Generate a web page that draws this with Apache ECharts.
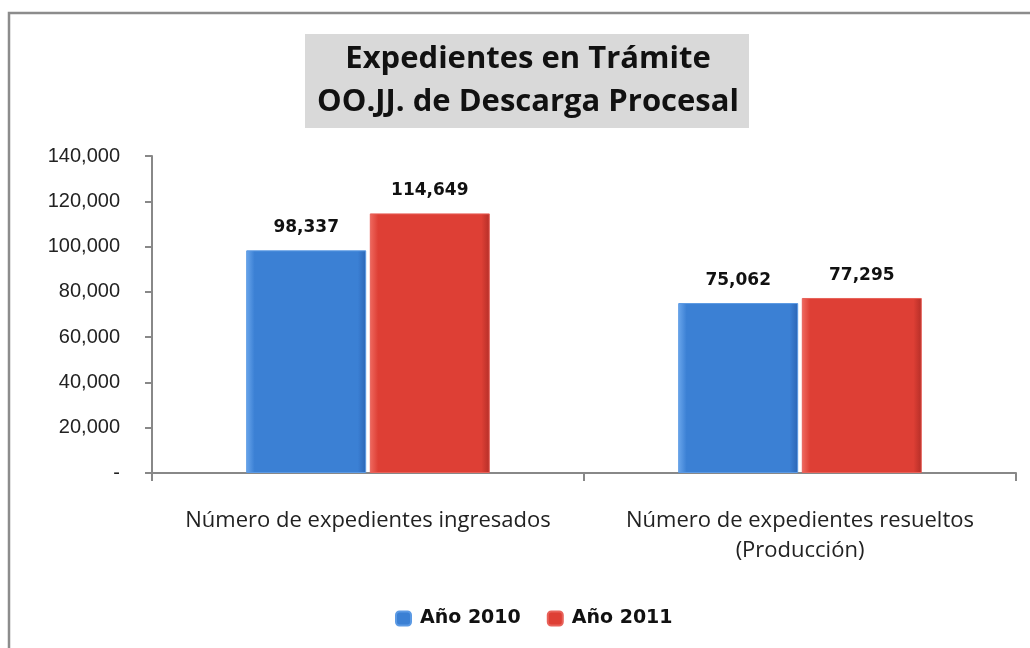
<!DOCTYPE html>
<html><head><meta charset="utf-8">
<script src="https://cdn.jsdelivr.net/npm/echarts@6/dist/echarts.min.js"></script>
<style>html,body{margin:0;padding:0;background:#fff}#c{width:1030px;height:648px}</style>
</head><body><div id="c"></div>
<script>
const categories = ['Número de expedientes ingresados', 'Número de expedientes resueltos\n(Producción)'];
const seriesNames = ['Año 2010', 'Año 2011'];
const values2010 = [98337, 75062];
const values2011 = [114649, 77295];
const yTicks = [0, 20000, 40000, 60000, 80000, 100000, 120000, 140000];

const chart = echarts.init(document.getElementById('c'));
function grad(light, mid, dark) {
  return new echarts.graphic.LinearGradient(0, 0, 1, 0, [
    {offset: 0, color: light}, {offset: 0.07, color: mid}, {offset: 0.93, color: mid}, {offset: 1, color: dark}
  ]);
}
const fmt = v => v === 0 ? '-' : v.toLocaleString('en-US');
chart.setOption({
  animation: false,
  graphic: [
    {type: 'rect', shape: {x: 9, y: 13, width: 1040, height: 660}, style: {fill: 'none', stroke: '#8c8c8c', lineWidth: 2.5}, z: 0},
    {type: 'rect', shape: {x: 305, y: 34, width: 444, height: 94}, style: {fill: '#d9d9d9'}, z: 1},
    {type: 'text', x: 528, y: 81, style: {text: 'Expedientes en Trámite\nOO.JJ. de Descarga Procesal', align: 'center', verticalAlign: 'middle', font: 'bold 31px "Open Sans"', lineHeight: 43, fill: '#111'}, z: 2}
  ],
  legend: {
    data: seriesNames, bottom: 15, left: 390, itemWidth: 15, itemHeight: 14, itemGap: 26,
    textStyle: {fontFamily: 'DejaVu Sans', fontWeight: 'bold', fontSize: 19, color: '#111', padding: [0, 0, 0, 4]}
  },
  grid: {left: 152, right: 14, top: 156, bottom: 175},
  xAxis: {
    type: 'category', data: categories,
    axisLine: {lineStyle: {color: '#888', width: 2}},
    axisTick: {show: true, length: 8, lineStyle: {color: '#888', width: 2}},
    axisLabel: {interval: 0, hideOverlap: false, fontFamily: 'Open Sans', fontSize: 22, color: '#222', margin: 33, lineHeight: 30}
  },
  yAxis: {
    type: 'value', min: 0, max: 140000, interval: 20000,
    splitLine: {show: false},
    axisLine: {show: true, lineStyle: {color: '#888', width: 2}},
    axisTick: {show: true, length: 7, lineStyle: {color: '#888', width: 2}},
    axisLabel: {formatter: fmt, fontFamily: 'Liberation Sans', fontSize: 20, color: '#222', margin: 32}
  },
  series: [
    {name: seriesNames[0], type: 'bar', data: values2010, barWidth: 120, barGap: '3%',
     itemStyle: {color: grad('#6aa6ec', '#3b80d4', '#2b65b5'), borderColor: '#5c9ae4', borderWidth: 1},
     label: {show: true, position: 'top', distance: 14, formatter: p => fmt(p.value), fontFamily: 'DejaVu Sans', fontWeight: 'bold', fontSize: 17, color: '#111'}},
    {name: seriesNames[1], type: 'bar', data: values2011, barWidth: 120,
     itemStyle: {color: grad('#ef6a60', '#de3f35', '#b42e27'), borderColor: '#e8625a', borderWidth: 1},
     label: {show: true, position: 'top', distance: 14, formatter: p => fmt(p.value), fontFamily: 'DejaVu Sans', fontWeight: 'bold', fontSize: 17, color: '#111'}}
  ]
});
</script></body></html>
